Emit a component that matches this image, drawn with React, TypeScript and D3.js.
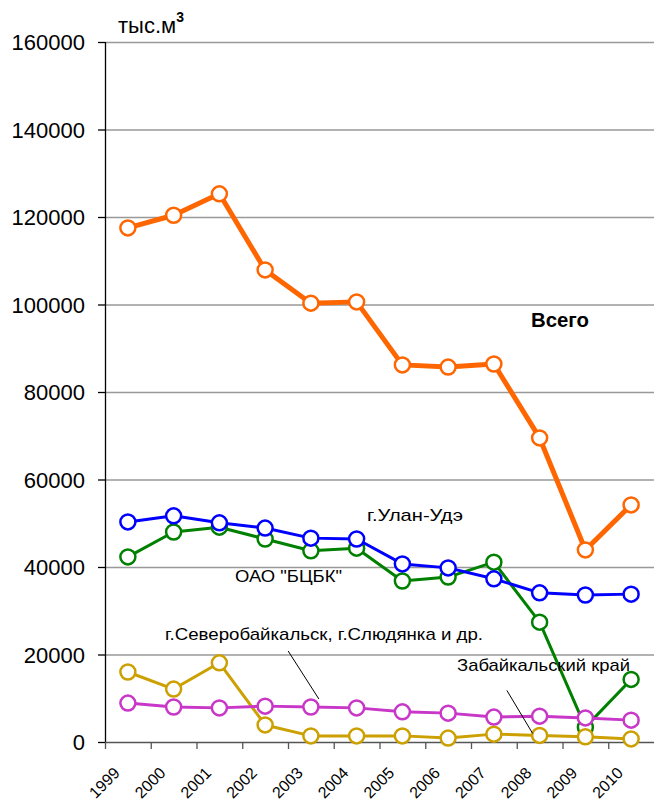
import React, { useRef, useEffect } from "react";
import * as d3 from "d3";

const years = ["1999", "2000", "2001", "2002", "2003", "2004", "2005", "2006", "2007", "2008", "2009", "2010"];
const yTicks = [0, 20000, 40000, 60000, 80000, 100000, 120000, 140000, 160000];

const totalValues = [117500, 120400, 125300, 107900, 100300, 100600, 86200, 85700, 86400, 69500, 43900, 54200];
const ulanUdeValues = [50300, 51700, 50100, 48900, 46600, 46400, 40700, 39800, 37300, 34100, 33600, 33800];
const bcbkValues = [42300, 48000, 49100, 46400, 43700, 44300, 36800, 37700, 41100, 27400, 3400, 14300];
const severValues = [8900, 8000, 7800, 8200, 8000, 7800, 6900, 6600, 5700, 5900, 5500, 5000];
const zabValues = [16000, 12100, 18100, 3900, 1400, 1400, 1400, 900, 1800, 1500, 1200, 700];

// drawing order: bottom first
const seriesList = [
  { name: "bcbk", values: bcbkValues, color: "#008000", width: 3 },
  { name: "ulan", values: ulanUdeValues, color: "#0000FF", width: 3 },
  { name: "zab", values: zabValues, color: "#CCA000", width: 3 },
  { name: "sever", values: severValues, color: "#C837C8", width: 3 },
  { name: "total", values: totalValues, color: "#FF6600", width: 5 },
];

const WIDTH = 654;
const HEIGHT = 806;
const margin = { top: 42, right: 0, bottom: 64, left: 105 };
const font = "'Liberation Sans', Arial, sans-serif";

const App: React.FC = () => {
  const svgRef = useRef<SVGSVGElement | null>(null);

  useEffect(() => {
    const svg = d3.select(svgRef.current);
    svg.selectAll("*").remove();

    const innerW = WIDTH - margin.left - margin.right;
    const innerH = HEIGHT - margin.top - margin.bottom;

    const x = d3.scaleBand().domain(years).range([0, innerW]);
    const y = d3.scaleLinear().domain([0, 160000]).range([innerH, 0]);

    const g = svg.append("g").attr("transform", `translate(${margin.left},${margin.top})`);

    // gridlines
    g.selectAll(".grid")
      .data(yTicks.filter((d) => d > 0))
      .join("line")
      .attr("x1", 0)
      .attr("x2", innerW)
      .attr("y1", (d) => y(d) + 0.5)
      .attr("y2", (d) => y(d) + 0.5)
      .attr("stroke", "#999999")
      .attr("stroke-width", 1.3);

    // y axis
    g.append("line")
      .attr("x1", 0.5)
      .attr("x2", 0.5)
      .attr("y1", 0)
      .attr("y2", innerH)
      .attr("stroke", "#000")
      .attr("stroke-width", 1.3);

    g.selectAll(".ytick")
      .data(yTicks)
      .join("line")
      .attr("x1", -7)
      .attr("x2", 0)
      .attr("y1", (d) => y(d) + 0.5)
      .attr("y2", (d) => y(d) + 0.5)
      .attr("stroke", "#000")
      .attr("stroke-width", 1.3);

    g.selectAll(".ylabel")
      .data(yTicks)
      .join("text")
      .attr("x", -20)
      .attr("y", (d) => y(d) + 8)
      .attr("text-anchor", "end")
      .style("font-family", font)
      .style("font-size", "22px")
      .attr("fill", "#000")
      .text((d) => String(d));

    // x axis
    g.append("line")
      .attr("x1", 0)
      .attr("x2", innerW)
      .attr("y1", innerH + 0.5)
      .attr("y2", innerH + 0.5)
      .attr("stroke", "#555")
      .attr("stroke-width", 1.5);

    g.selectAll(".xtick")
      .data(years)
      .join("line")
      .attr("x1", (d) => (x(d) as number) + 0.5)
      .attr("x2", (d) => (x(d) as number) + 0.5)
      .attr("y1", innerH)
      .attr("y2", innerH + 7)
      .attr("stroke", "#555")
      .attr("stroke-width", 1.3);

    g.selectAll(".xlabel")
      .data(years)
      .join("text")
      .attr(
        "transform",
        (d) => `translate(${(x(d) as number) + x.bandwidth() / 2 - 7},${innerH + 32}) rotate(-45)`
      )
      .attr("text-anchor", "end")
      .style("font-family", font)
      .style("font-size", "16px")
      .attr("fill", "#000")
      .text((d) => d);

    const cx = (i: number) => (x(years[i]) as number) + x.bandwidth() / 2;

    seriesList.forEach((s) => {
      const line = d3
        .line<number>()
        .x((_, i) => cx(i))
        .y((d) => y(d));
      g.append("path")
        .datum(s.values)
        .attr("fill", "none")
        .attr("stroke", s.color)
        .attr("stroke-width", s.width)
        .attr("stroke-linejoin", "round")
        .attr("d", line);
      g.selectAll(`.m-${s.name}`)
        .data(s.values)
        .join("circle")
        .attr("cx", (_, i) => cx(i))
        .attr("cy", (d) => y(d))
        .attr("r", 7.5)
        .attr("fill", "#fff")
        .attr("stroke", s.color)
        .attr("stroke-width", 2.5);
    });

    // leader lines
    g.append("line")
      .attr("x1", cx(3) + 23)
      .attr("y1", y(severValues[4]) - 56)
      .attr("x2", cx(4) + 8)
      .attr("y2", y(severValues[4]) - 8)
      .attr("stroke", "#000")
      .attr("stroke-width", 1);
    g.append("line")
      .attr("x1", cx(8) + 13)
      .attr("y1", y(zabValues[9]) - 45)
      .attr("x2", cx(9) - 7)
      .attr("y2", y(zabValues[9]) - 2)
      .attr("stroke", "#000")
      .attr("stroke-width", 1);

    // labels
    const label = (tx: number, ty: number, text: string, size: number, len: number, bold = false) =>
      svg
        .append("text")
        .attr("x", tx)
        .attr("y", ty)
        .attr("textLength", len)
        .attr("lengthAdjust", "spacingAndGlyphs")
        .style("font-family", font)
        .style("font-size", `${size}px`)
        .style("font-weight", bold ? "bold" : "normal")
        .attr("fill", "#000")
        .text(text);

    label(531, 327, "Всего", 20, 58, true);
    label(367, 521, "г.Улан-Удэ", 17, 96);
    label(235, 582, "ОАО \"БЦБК\"", 17, 107);
    label(165, 640, "г.Северобайкальск, г.Слюдянка и др.", 17, 318);
    label(457, 671, "Забайкальский край", 17, 173);

    const unit = svg
      .append("text")
      .attr("x", 118)
      .attr("y", 33)
      .style("font-family", font)
      .style("font-size", "22px")
      .attr("fill", "#000")
      .text("тыс.м");
    unit
      .append("tspan")
      .attr("dy", -11)
      .style("font-size", "14px")
      .style("font-weight", "bold")
      .text("3");
  }, []);

  return (
    <svg
      ref={svgRef}
      width={WIDTH}
      height={HEIGHT}
      style={{ position: "absolute", left: 0, top: 0, display: "block", background: "#fff" }}
    />
  );
};

export default App;
